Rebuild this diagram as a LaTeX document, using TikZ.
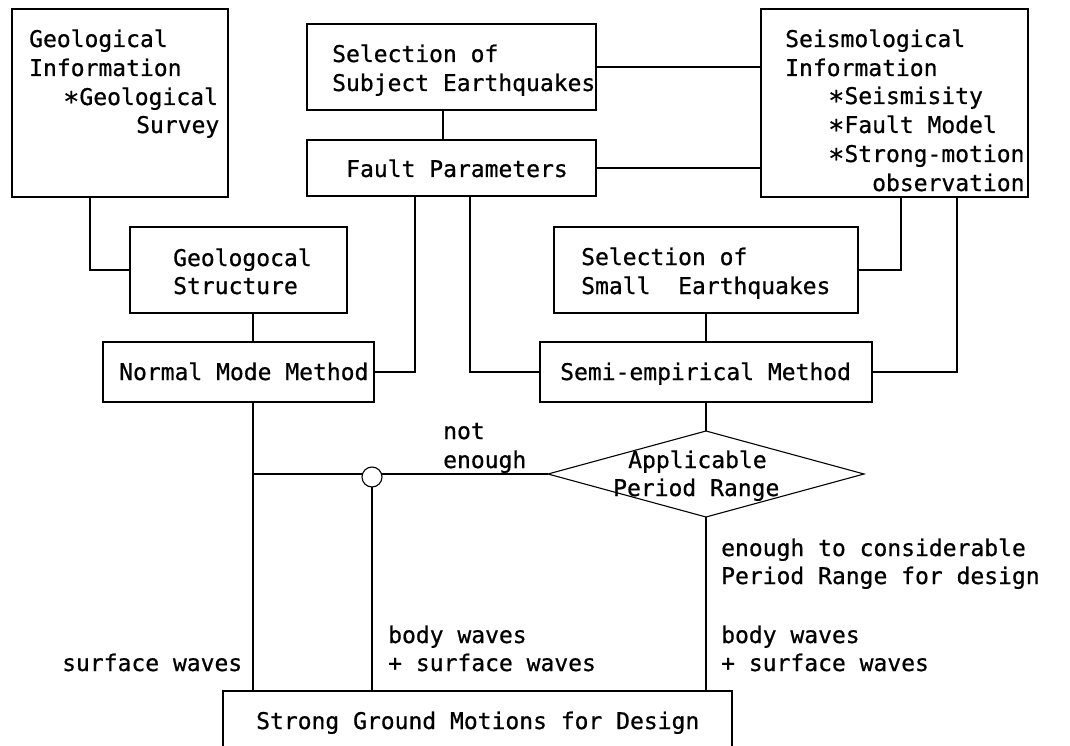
\documentclass[tikz,border=0pt]{standalone}
\usepackage{fontspec}
\newfontfamily\dmono[FakeBold=0.7]{DejaVu Sans Mono}
\usetikzlibrary{shapes.geometric}
\newcommand\myast{\raisebox{-6pt}{\fontsize{27}{27}\selectfont *}}
\begin{document}
\begin{tikzpicture}[x=1pt,y=-1pt,
  box/.style={draw, line width=1.1pt, inner sep=0pt, outer sep=0pt},
  txt/.style={font=\dmono\fontsize{23}{27}\selectfont, inner sep=0pt, anchor=base west},
  conn/.style={line width=1.1pt}]
\useasboundingbox (0,0) rectangle (1070,746);
\fill[white] (0,0) rectangle (1070,746);
\clip (0,0) rectangle (1070,746);

% boxes
\node[box, minimum width=216, minimum height=188] (geo) at (120,103) {};
\node[box, minimum width=289, minimum height=86] (subj) at (451.5,67) {};
\node[box, minimum width=289, minimum height=56] (fault) at (451.5,168) {};
\node[box, minimum width=267, minimum height=188] (seis) at (894.5,103) {};
\node[box, minimum width=217, minimum height=86] (gstr) at (238.5,270) {};
\node[box, minimum width=271, minimum height=60] (normal) at (238.5,372) {};
\node[box, minimum width=304, minimum height=86] (small) at (706,270) {};
\node[box, minimum width=332, minimum height=60] (semi) at (706,372) {};
\node[box, shape=diamond, minimum width=316, minimum height=86] (dia) at (706,474) {};
\node[box, shape=circle, minimum size=20] (circ) at (372,477) {};
\node[box, minimum width=509, minimum height=80] (strong) at (477.5,731) {};

% texts
\node[txt] (t1) at (29,47) {Geological};
\node[txt] (t2) at (29,76) {Information};
\node[txt] (t3) at (63,105) {\myast Geological};
\node[txt] (t4) at (136,133) {Survey};

\node[txt] (s1) at (332,62) {Selection of};
\node[txt] (s2) at (332,91) {Subject Earthquakes};
\node[txt] (f1) at (346,177) {Fault Parameters};

\node[txt] (m1) at (785,47) {Seismological};
\node[txt] (m2) at (785,76) {Information};
\node[txt] (m3) at (828,104) {\myast Seismisity};
\node[txt] (m4) at (828,133) {\myast Fault Model};
\node[txt] (m5) at (828,162) {\myast Strong-motion};
\node[txt] (m6) at (872,191) {observation};

\node[txt] (g1) at (173,266) {Geologocal};
\node[txt] (g2) at (173,294) {Structure};
\node[txt] (n1) at (119,380) {Normal Mode Method};

\node[txt] (e1) at (581,265) {Selection of};
\node[txt] (e2) at (581,294) {Small\ \ Earthquakes};
\node[txt] (p1) at (560,380) {Semi-empirical Method};

\node[txt] (a1) at (628,468) {Applicable};
\node[txt] (a2) at (613,496) {Period Range};

\node[txt] (ne1) at (443,439) {not};
\node[txt] (ne2) at (443,468) {enough};

\node[txt] (r1) at (721,556) {enough to considerable};
\node[txt] (r2) at (721,584) {Period Range for design};
\node[txt] (r3) at (721,643) {body waves};
\node[txt] (r4) at (721,671) {+ surface waves};

\node[txt] (b1) at (388,643) {body waves};
\node[txt] (b2) at (388,671) {+ surface waves};
\node[txt] (sw) at (62,671) {surface waves};

\node[txt] (sg) at (256,729) {Strong Ground Motions for Design};

% connectors
\draw[conn] ([xshift=-30pt]geo.south) |- (gstr.west);
\draw[conn] ([xshift=-8.5pt]subj.south) -- ([xshift=-8.5pt]fault.north);
\draw[conn] (subj.east) -- (subj.east -| seis.west);
\draw[conn] (fault.east) -- (fault.east -| seis.west);
\draw[conn] ([xshift=-36.5pt]fault.south) |- (normal.east);
\draw[conn] ([xshift=18.5pt]fault.south) |- (semi.west);
\draw[conn] ([xshift=6.5pt]seis.south) |- (small.east);
\draw[conn] ([xshift=62.5pt]seis.south) |- (semi.east);
\draw[conn] ([xshift=14.5pt]gstr.south) -- ([xshift=14.5pt]normal.north);
\draw[conn] (small.south) -- (small.south |- semi.north);
\draw[conn] (semi.south) -- (dia.north);
\draw[conn] (dia.west) -- (dia.west -| circ.east);
\coordinate (j) at ([xshift=14.5pt]normal.south |- dia.west);
\draw[conn] (dia.west -| circ.west) -- (j);
\draw[conn] ([xshift=14.5pt]normal.south) -- ([xshift=14.5pt]normal.south |- strong.north);
\draw[conn] (circ.south) -- (circ.south |- strong.north);
\draw[conn] (dia.south) -- (dia.south |- strong.north);
\end{tikzpicture}
\end{document}
